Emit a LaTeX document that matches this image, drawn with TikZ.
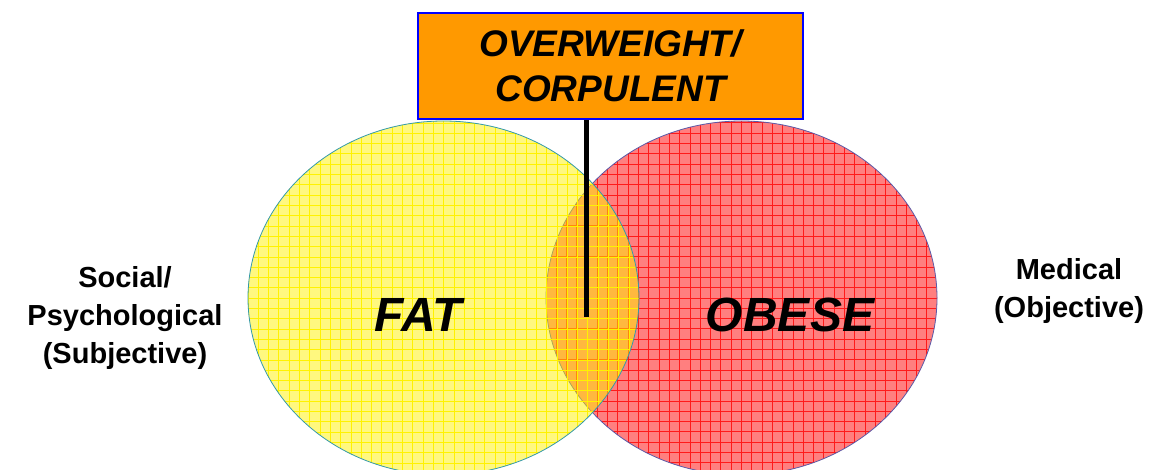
\documentclass[tikz,border=0pt]{standalone}
\usepackage{fontspec}
\setmainfont{Liberation Sans}
\usetikzlibrary{shapes.geometric}
\definecolor{boxorange}{HTML}{FF9900}
\definecolor{yelline}{HTML}{3399AA}
\definecolor{redline}{HTML}{5A5AA8}
\definecolor{redgrid}{HTML}{FF1A1A}
\definecolor{yelgrid}{HTML}{FFF200}
\tikzset{
  venn/.style={ellipse, inner sep=0pt, minimum width=391pt, minimum height=354pt},
  gridded/.style 2 args={path picture={
      \foreach \k in {-20,...,20}{
        \draw[#1, line width=#2] ([xshift=\k*10.3pt]path picture bounding box.south) -- ([xshift=\k*10.3pt]path picture bounding box.north);
        \draw[#1, line width=#2] ([yshift=\k*10.3pt]path picture bounding box.west) -- ([yshift=\k*10.3pt]path picture bounding box.east);
      }}},
  bigtxt/.style={font=\fontsize{48}{56}\selectfont\bfseries\itshape},
  sidetxt/.style={font=\fontsize{29}{38}\selectfont\bfseries, align=center},
  labelbox/.style={draw=blue, line width=2pt, fill=boxorange, inner sep=0pt,
    minimum width=385pt, minimum height=106pt, align=center,
    font=\fontsize{37}{45}\selectfont\bfseries\itshape}
}
\begin{document}
\begin{tikzpicture}[x=1pt, y=-1pt]
\useasboundingbox (0,0) rectangle (1155,470);
\begin{scope}
\clip (0,0) rectangle (1155,470);
\node[venn, fill=red, fill opacity=0.5, gridded={redgrid}{0.9pt}, draw=redline, line width=0.8pt] (obese) at (741.5,298) {};
\node[venn, fill=yellow, fill opacity=0.5, gridded={yelgrid}{0.6pt}, draw=yelline, line width=0.8pt] (fat) at (443.5,298) {};
\end{scope}
\node[bigtxt] (fattxt) at (418,315) {FAT};
\node[bigtxt] (obesetxt) at (790,315) {OBESE};
\node[labelbox] (box) at (610.5,66) {OVERWEIGHT/\\CORPULENT};
\coordinate (stemend) at (586,317);
\draw[line width=5pt] (stemend |- box.south) -- (stemend);
\node[sidetxt] (social) at (125,318) {Social/\\Psychological\\(Subjective)};
\node[sidetxt] (medical) at (1069,291) {Medical\\(Objective)};
\end{tikzpicture}
\end{document}
